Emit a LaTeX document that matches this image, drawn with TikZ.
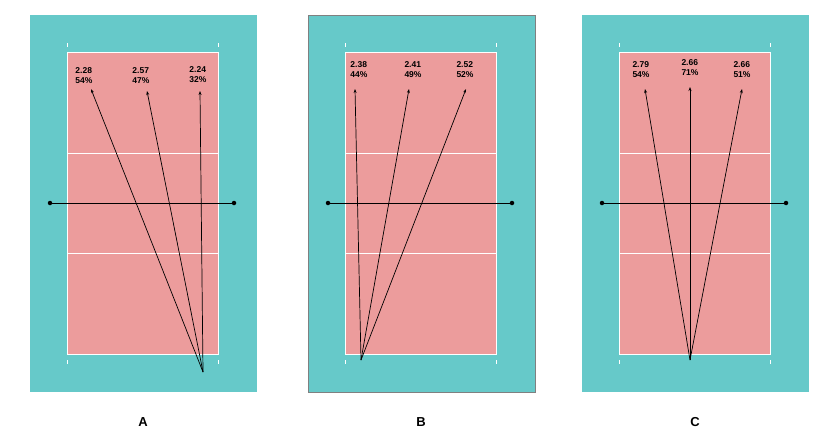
\documentclass[tikz,border=0pt]{standalone}
\usepackage{fontspec}
\setmainfont{Liberation Sans}
\definecolor{teal1}{HTML}{66C9C9}
\definecolor{pink1}{HTML}{EC9C9C}
\tikzset{lbl/.style={font=\bfseries\fontsize{8.5}{10}\selectfont,align=left,inner sep=0pt},
 arr/.style={-{Stealth[length=4pt,width=3pt]},line width=0.7pt},
 tick/.style={white,line width=0.8pt},
 dot/.style={circle,fill=black,inner sep=0pt,minimum size=4.5pt}}
\usetikzlibrary{arrows.meta}
\newcommand{\panel}[3]{% #1 x offset of teal left, #2 name, #3 border
 \begin{scope}[xshift=#1pt]
 \fill[teal1,#3] (0,15) rectangle (227,392);
 \fill[pink1] (37,52) rectangle (188,354);
 \draw[white,line width=1pt] (37,52) rectangle (188,354);
 \draw[white,line width=0.8pt] (37,153) -- (188,153) (37,253) -- (188,253);
 \draw[tick] (37,43)--(37,47) (188,43)--(188,47) (37,360)--(37,364) (188,360)--(188,364);
 \node[dot] (#2l) at (20,203) {}; \node[dot] (#2r) at (204,203) {};
 \draw[line width=0.7pt] (#2l) -- (#2r);
 \node[font=\bfseries\fontsize{13}{15}\selectfont] (#2lab) at (113,422) {#2};
 \end{scope}}
\begin{document}
\begin{tikzpicture}[x=1pt,y=-1pt]
\useasboundingbox (0,0) rectangle (832,442);
\panel{30}{A}{}
\panel{308}{B}{draw=gray,line width=0.6pt}
\panel{582}{C}{}
% A
\coordinate (sa) at (203,372);
\node[lbl] (a1) at (84,76) {2.28\\54\%};
\node[lbl] (a2) at (141,76) {2.57\\47\%};
\node[lbl] (a3) at (198,75) {2.24\\32\%};
\draw[arr] (sa) -- (91,89);
\draw[arr] (sa) -- (147,91);
\draw[arr] (sa) -- (200,91);
% B
\coordinate (sb) at (361,360);
\node[lbl] (b1) at (359,70) {2.38\\44\%};
\node[lbl] (b2) at (413,70) {2.41\\49\%};
\node[lbl] (b3) at (465,70) {2.52\\52\%};
\draw[arr] (sb) -- (355,89);
\draw[arr] (sb) -- (409,89);
\draw[arr] (sb) -- (466,89);
% C
\coordinate (sc) at (690,360);
\node[lbl] (c1) at (641,70) {2.79\\54\%};
\node[lbl] (c2) at (690,68) {2.66\\71\%};
\node[lbl] (c3) at (742,70) {2.66\\51\%};
\draw[arr] (sc) -- (645,89);
\draw[arr] (sc) -- (690,87);
\draw[arr] (sc) -- (742,89);
\end{tikzpicture}
\end{document}
